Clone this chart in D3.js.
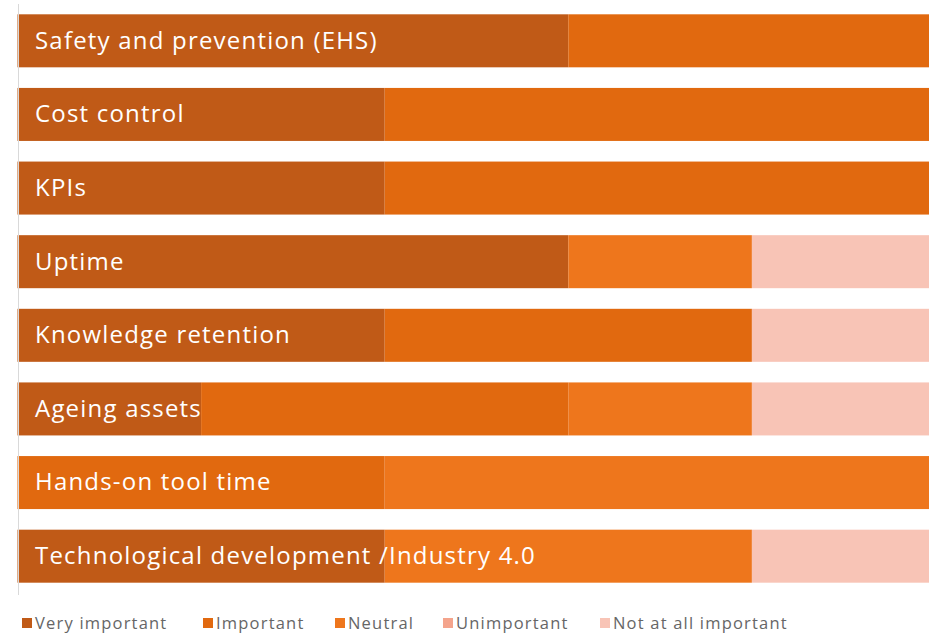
<!DOCTYPE html>
<html>
<head>
<meta charset="utf-8">
<script src="https://cdn.jsdelivr.net/npm/d3@7"></script>
<style>
  body { margin: 0; background: #fff; }
  svg { display: block; font-family: "Open Sans", sans-serif; }
</style>
</head>
<body>
<div id="chart"></div>
<script>
// Categories, top to bottom
var categories = ["Safety and prevention (EHS)", "Cost control", "KPIs", "Uptime",
                  "Knowledge retention", "Ageing assets", "Hands-on tool time",
                  "Technological development /Industry 4.0"];
var seriesNames = ["Very important", "Important", "Neutral", "Unimportant", "Not at all important"];

// Share of answers (%) per series
var veryImportant     = [60, 40, 40, 60, 40, 20,  0, 40];
var important         = [40, 60, 60,  0, 40, 40, 40,  0];
var neutral           = [ 0,  0,  0, 20,  0, 20, 60, 40];
var unimportant       = [ 0,  0,  0,  0,  0,  0,  0,  0];
var notAtAllImportant = [ 0,  0,  0, 20, 20, 20,  0, 20];

var colors = ["#c05a17", "#e1690f", "#ee761c", "#f4a48c", "#f8c4b6"];

var svgWidth = 929, svgHeight = 635;
var svg = d3.select("#chart").append("svg")
            .attr("width", svgWidth)
            .attr("height", svgHeight);

// table for stacking
var table = categories.map(function(c, i) {
  return {
    category: c,
    "Very important": veryImportant[i],
    "Important": important[i],
    "Neutral": neutral[i],
    "Unimportant": unimportant[i],
    "Not at all important": notAtAllImportant[i]
  };
});
var stacked = d3.stack().keys(seriesNames)(table);

// plot runs a bit past the right edge, as in the original
var x = d3.scaleLinear().domain([0, 100]).range([17.5, 935.5]);
var y = d3.scaleBand().domain(categories).range([4, 593])
          .paddingInner(0.28).paddingOuter(0.14);
var color = d3.scaleOrdinal().domain(seriesNames).range(colors);

// bars
svg.selectAll("g.series")
   .data(stacked)
   .enter()
   .append("g")
   .attr("class", "series")
   .attr("fill", function(d) { return color(d.key); })
   .selectAll("rect")
   .data(function(d) { return d; })
   .enter()
   .append("rect")
   .attr("x", function(d) { return x(d[0]); })
   .attr("y", function(d) { return y(d.data.category); })
   .attr("width", function(d) { return x(d[1]) - x(d[0]); })
   .attr("height", y.bandwidth());

// left axis line
svg.append("line")
   .attr("x1", 18.5).attr("x2", 18.5)
   .attr("y1", 4).attr("y2", 595)
   .attr("stroke", "#d9d9d9")
   .attr("stroke-width", 1);

// category labels inside bars
svg.selectAll("text.cat")
   .data(categories)
   .enter()
   .append("text")
   .attr("class", "cat")
   .attr("x", 35)
   .attr("y", function(d) { return y(d) + y.bandwidth() / 2; })
   .attr("dy", "0.33em")
   .attr("fill", "#fff")
   .attr("font-size", "24px")
   .attr("letter-spacing", "1.2px")
   .text(function(d) { return d; });

// legend
var legendX = [22, 203, 335, 443, 600];
var legend = svg.selectAll("g.legend")
                .data(seriesNames)
                .enter()
                .append("g")
                .attr("class", "legend")
                .attr("transform", function(d, i) { return "translate(" + legendX[i] + ",623)"; });
legend.append("rect")
      .attr("x", 0).attr("y", -5)
      .attr("width", 10).attr("height", 10)
      .attr("fill", function(d) { return color(d); });
legend.append("text")
      .attr("x", 13)
      .attr("dy", "0.35em")
      .attr("fill", "#666")
      .attr("font-size", "16.5px")
      .attr("letter-spacing", "1.2px")
      .text(function(d) { return d; });
</script>
</body>
</html>
